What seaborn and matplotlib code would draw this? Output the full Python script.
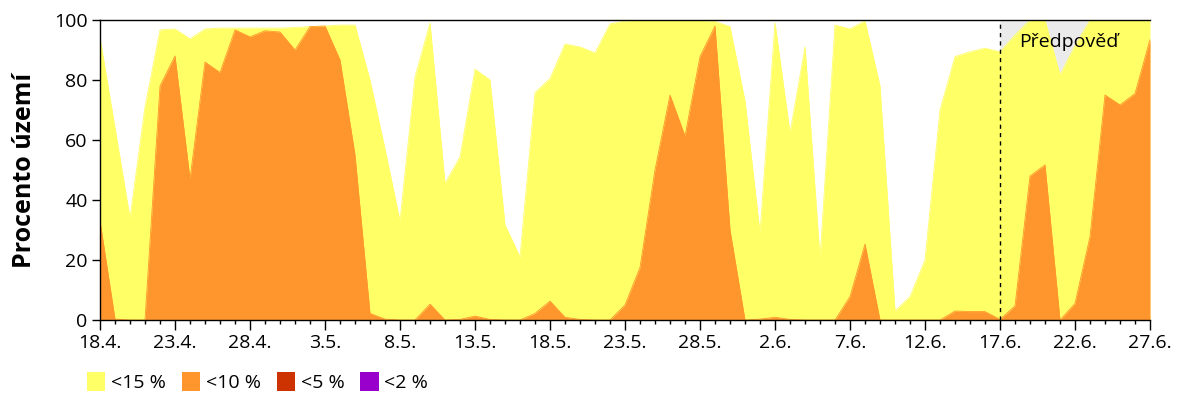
import numpy as np
import pandas as pd
import matplotlib
matplotlib.use("Agg")
import matplotlib.pyplot as plt
from matplotlib.patches import Patch
import seaborn as sns

# ---- data ----
tick_labels = ["18.4.", "23.4.", "28.4.", "3.5.", "8.5.", "13.5.", "18.5.",
               "23.5.", "28.5.", "2.6.", "7.6.", "12.6.", "17.6.", "22.6.", "27.6."]
forecast_start = 60  # 17.6.

below15 = [94, 64, 34, 71, 96.7, 97, 93.7, 97, 97.3, 97.3,
           97.3, 97.3, 97.3, 97.5, 97.8, 98, 98.3, 98.3, 80, 57,
           33, 81, 99, 45.5, 54.4, 83.6, 80, 31.7, 21, 75.8,
           80.5, 92, 91, 89, 98.7, 99.7, 100, 100, 100, 100,
           100, 99.5, 97.8, 73, 29, 99, 62.4, 91, 20.6, 98.3,
           97, 99.7, 78, 3, 7.8, 20, 70, 87.8, 89.4, 90.6,
           89.4, 95, 100, 100, 81.7, 91.5, 100, 100, 100, 100,
           100]
below10 = [33, 0.3, 0, 0, 78, 88, 47, 86, 82.5, 96.7,
           94.4, 96.4, 96, 90, 97.8, 98, 86.7, 55, 2.2, 0.3,
           0, 0, 5.3, 0, 0.2, 1.3, 0.2, 0, 0, 2.2,
           6.3, 0.9, 0.2, 0, 0, 5, 17.5, 50, 75, 61.3,
           87.8, 98, 30, 0, 0.3, 0.9, 0.2, 0, 0, 0,
           7.8, 25.3, 0, 0, 0, 0, 0, 3, 2.8, 2.8,
           0.2, 4.7, 48, 51.7, 0, 5.5, 27.8, 75, 71.7, 75.5,
           93.5]
below5 = [0] * 71
below2 = [0] * 71

labels = ["<15 %", "<10 %", "<5 %", "<2 %"]
colors = ["#FFFF66", "#FF962D", "#CC3300", "#9900CC"]
grey = "#EBEBEB"

days = np.arange(len(below15))
df = pd.DataFrame({"day": days, "b15": below15, "b10": below10,
                   "b5": below5, "b2": below2})

sns.set_style("ticks")
plt.rcParams["font.family"] = ["Open Sans", "DejaVu Sans"]
plt.rcParams.update({"text.color": "black", "axes.labelcolor": "black",
                     "xtick.color": "black", "ytick.color": "black"})

fig = plt.figure(figsize=(12, 4), dpi=100)
ax = fig.add_axes([100/1200, 80/400, 1050/1200, 300/400])

# forecast remainder (grey)
fc = df[df.day >= forecast_start]
ax.fill_between(fc.day, fc.b15, 100, color=grey, lw=0)

for col, c in zip(["b15", "b10", "b5", "b2"], colors):
    ax.fill_between(df.day, 0, df[col], color=c, lw=0)
    sns.lineplot(data=df, x="day", y=col, color=c, lw=0.6, ax=ax)

ax.plot([forecast_start, forecast_start], [0, 100], color="black", lw=1,
        ls=(0, (3, 3)))
ax.text(forecast_start + 1.3, 92.7, "Předpověď", fontsize=14, va="center",
        ha="left", color="black")

ax.set_xlim(0, 70)
ax.set_ylim(0, 100)
ax.set_xticks(np.arange(0, 71, 5))
ax.set_xticklabels(tick_labels, fontsize=14)
ax.set_xticks(np.arange(0, 71, 1), minor=True)
ax.set_yticks(np.arange(0, 101, 20))
ax.tick_params(axis="y", labelsize=14, length=6, width=1, pad=3)
ax.tick_params(axis="x", which="major", length=7, width=1, pad=3)
ax.tick_params(axis="x", which="minor", length=3, width=1)
ax.set_xlabel("")
ax.set_ylabel("Procento území", fontsize=18, fontweight="bold", labelpad=12)
for s in ["left", "bottom", "top"]:
    ax.spines[s].set_visible(True)
    ax.spines[s].set_color("black")
    ax.spines[s].set_linewidth(1)
ax.spines["right"].set_visible(False)

handles = [Patch(facecolor=c, edgecolor="none") for c in colors]
fig.legend(handles, labels, loc="lower left", bbox_to_anchor=(0.066, 0.0),
           ncol=4, frameon=False, fontsize=14, handlelength=0.95,
           handleheight=1.15, handletextpad=0.3, columnspacing=0.8,
           borderaxespad=0)

fig.savefig("out.png", dpi=100)
